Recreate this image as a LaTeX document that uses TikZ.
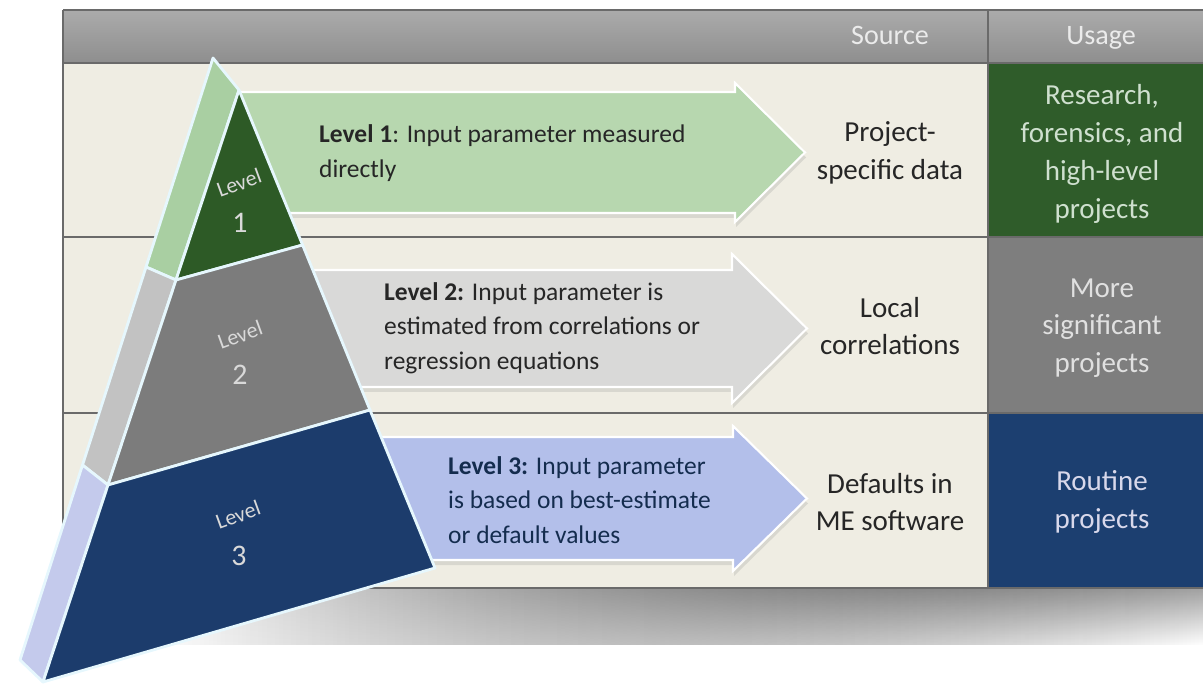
\documentclass[tikz,border=0pt]{standalone}
\usepackage{fontspec}
\setmainfont{Carlito}
\usetikzlibrary{positioning,shadows,fadings}

\definecolor{tablebg}{HTML}{EFEDE3}
\definecolor{hdrtop}{HTML}{ABABAB}
\definecolor{hdrbot}{HTML}{8E8E8E}
\definecolor{rowline}{HTML}{6A6A6A}
\definecolor{usegreen}{HTML}{2F5C2A}
\definecolor{usegray}{HTML}{7E7E7E}
\definecolor{usenavy}{HTML}{1C3F70}
\definecolor{frontone}{HTML}{2D5A26}
\definecolor{fronttwo}{HTML}{7C7C7C}
\definecolor{frontthree}{HTML}{1C3C6C}
\definecolor{sideone}{HTML}{A9CFA2}
\definecolor{sidetwo}{HTML}{C2C2C2}
\definecolor{sidethree}{HTML}{C4CAEC}
\definecolor{arrowone}{HTML}{B7D7AF}
\definecolor{arrowtwo}{HTML}{D9D9D8}
\definecolor{arrowthree}{HTML}{B3BFEA}

\tikzfading[name=shadowfade, left color=transparent!100, right color=transparent!0]

\begin{document}
\begin{tikzpicture}[x=0.02cm, y=-0.02cm,
    hdrtext/.style={anchor=base, text=white!92!black, font=\fontsize{16}{20}\selectfont},
    srctext/.style={align=center, text=black!85, font=\fontsize{16.5}{21.5}\selectfont},
    usetext/.style={align=center, font=\fontsize{16.5}{21.5}\selectfont},
    desctext/.style={anchor=west, align=left, font=\fontsize{14.5}{19.6}\selectfont},
    lvltext/.style={inner sep=0pt, text=white!85!black, rotate=20, font=\fontsize{12.5}{14}\selectfont},
    numtext/.style={inner sep=0pt, text=white!85!black, font=\fontsize{17}{20}\selectfont},
    bandarrow/.style={draw=white, line width=1.2pt,
      drop shadow={shadow xshift=0.02cm, shadow yshift=-0.1cm, opacity=0.2}},
    pyrline/.style={draw=white!90!cyan, line width=1.6pt, line join=round}]
  \useasboundingbox (0,0) rectangle (1203,685);

  % Shadow under the table
  \fill[top color=black!38, bottom color=white, path fading=shadowfade]
    (150,586) rectangle (1203,645);

  % Table body and header
  \fill[tablebg] (63,63) rectangle (988,588);
  \shade[top color=hdrtop, bottom color=hdrbot] (63,10) rectangle (1203,63);
  \fill[usegreen] (988,63) rectangle (1203,237);
  \fill[usegray] (988,237) rectangle (1203,413);
  \fill[usenavy] (988,413) rectangle (1203,588);
  \foreach \y in {10,63,237,413,588}
    \draw[rowline, line width=1pt] (63,\y) -- (1203,\y);
  \foreach \x in {63,988}
    \draw[rowline, line width=1pt] (\x,10) -- (\x,588);

  \node[hdrtext] (source) at (890,45) {Source};
  \node[hdrtext] (usage) at (1101,45) {Usage};

  % Arrows from each level to its source
  \fill[arrowone, bandarrow] (235,92) -- (735,92) -- (735,83) -- (805,152.5)
    -- (735,222) -- (735,213) -- (235,213) -- cycle;
  \fill[arrowtwo, bandarrow] (300,270) -- (732,270) -- (732,254) -- (807,328.5)
    -- (732,403) -- (732,387) -- (300,387) -- cycle;
  \fill[arrowthree, bandarrow] (370,437) -- (733,437) -- (733,426) -- (807,498.5)
    -- (733,571) -- (733,560) -- (370,560) -- cycle;

  \node[desctext, text=black!85] (desc1) at (313,153)
    {\textbf{Level 1}: Input parameter measured\\directly};
  \node[desctext, text=black!85] (desc2) at (378,328)
    {\textbf{Level 2:} Input parameter is\\estimated from correlations or\\regression equations};
  \node[desctext, text=usenavy!70!black] (desc3) at (442,500)
    {\textbf{Level 3:} Input parameter\\is based on best-estimate\\or default values};

  % Source column
  \node[srctext] (src1) at (890,153) {Project-\\specific data};
  \node[srctext] (src2) at (890,326) {Local\\correlations};
  \node[srctext] (src3) at (890,502) {Defaults in\\ME software};

  % Usage column
  \node[usetext, text=green!8!white!88!black] (use1) at (1102,154)
    {Research,\\forensics, and\\high-level\\projects};
  \node[usetext, text=white!88!black] (use2) at (1102,328)
    {More\\significant\\projects};
  \node[usetext, text=blue!8!white!92!black] (use3) at (1102,502)
    {Routine\\projects};

  % Pyramid corners
  \coordinate (apex) at (239,90);
  \coordinate (sapex) at (213,58);
  \coordinate (l1) at (176,280);
  \coordinate (r1) at (302.6,245);
  \coordinate (s1) at (146,267);
  \coordinate (l2) at (108,485);
  \coordinate (r2) at (370,410);
  \coordinate (s2) at (82.5,465);
  \coordinate (l3) at (43,682);
  \coordinate (r3) at (435,568);
  \coordinate (s3) at (20,660);

  % Side faces
  \fill[sideone, pyrline] (sapex) -- (apex) -- (l1) -- (s1) -- cycle;
  \fill[sidetwo, pyrline] (s1) -- (l1) -- (l2) -- (s2) -- cycle;
  \fill[sidethree, pyrline] (s2) -- (l2) -- (l3) -- (s3) -- cycle;

  % Front faces
  \fill[frontone, pyrline] (apex) -- (r1) -- (l1) -- cycle;
  \fill[fronttwo, pyrline] (l1) -- (r1) -- (r2) -- (l2) -- cycle;
  \fill[frontthree, pyrline] (l2) -- (r2) -- (r3) -- (l3) -- cycle;

  % Level labels
  \node[lvltext] (lvl1) at (239,183) {Level};
  \node[numtext] (num1) at (240,223) {1};
  \node[lvltext] (lvl2) at (240,335) {Level};
  \node[numtext] (num2) at (240,375) {2};
  \node[lvltext] (lvl3) at (238,515) {Level};
  \node[numtext] (num3) at (239,556) {3};
\end{tikzpicture}
\end{document}
